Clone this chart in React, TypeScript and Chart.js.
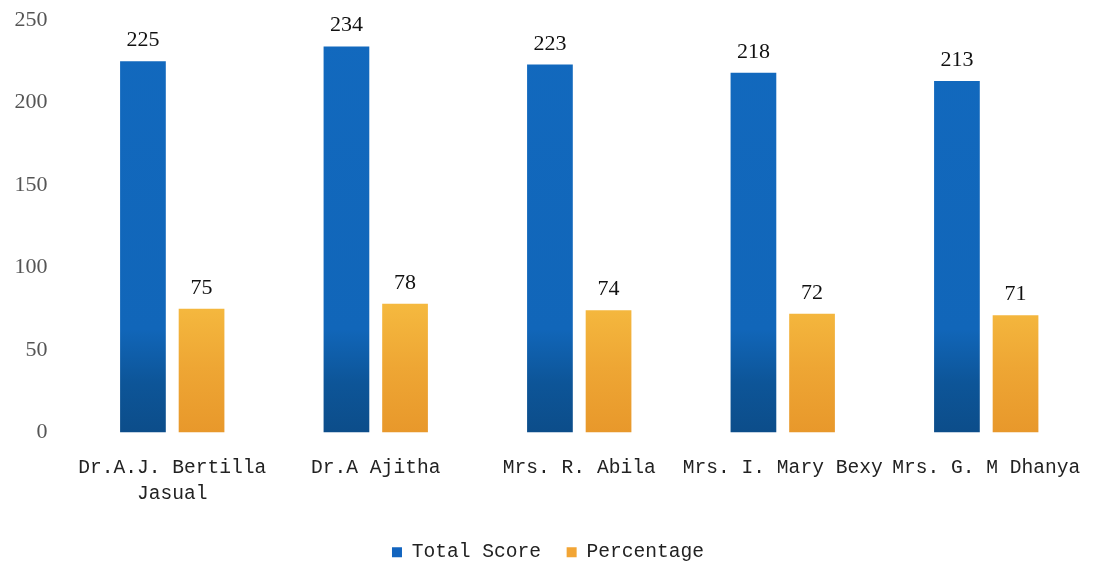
import React, { useEffect, useRef } from "react";
import { Chart, registerables } from "chart.js";

Chart.register(...registerables);

const categories: (string | string[])[] = [
  ["Dr.A.J. Bertilla", "Jasual"],
  "Dr.A Ajitha",
  "Mrs. R. Abila",
  "Mrs. I. Mary Bexy",
  "Mrs. G. M Dhanya",
];
const totalScore = [225, 234, 223, 218, 213];
const percentage = [75, 78, 74, 72, 71];
const yTicks = [0, 50, 100, 150, 200, 250];
const seriesNames = ["Total Score", "Percentage"];

const labelFont = "'Liberation Mono', 'DejaVu Sans Mono', monospace";
const numFont = "'Liberation Serif', 'DejaVu Serif', serif";

function blueFill(ctx: any) {
  const chart = ctx.chart;
  const area = chart.chartArea;
  if (!area) return "#1267bd";
  const y = chart.scales.y;
  const g = chart.ctx.createLinearGradient(0, y.getPixelForValue(0), 0, y.getPixelForValue(250));
  g.addColorStop(0, "#0c4d8a");
  g.addColorStop(0.12, "#0d5598");
  g.addColorStop(0.25, "#1166b9");
  g.addColorStop(1, "#1269be");
  return g;
}

function orangeFill(ctx: any) {
  const chart = ctx.chart;
  const area = chart.chartArea;
  if (!area) return "#f0a832";
  const y = chart.scales.y;
  const g = chart.ctx.createLinearGradient(0, y.getPixelForValue(0), 0, y.getPixelForValue(78));
  g.addColorStop(0, "#e8982b");
  g.addColorStop(0.5, "#eea634");
  g.addColorStop(1, "#f5b93f");
  return g;
}

const valueLabels = {
  id: "valueLabels",
  afterDatasetsDraw(chart: any) {
    const ctx = chart.ctx;
    ctx.save();
    ctx.font = `22px ${numFont}`;
    ctx.fillStyle = "#111";
    ctx.textAlign = "center";
    ctx.textBaseline = "alphabetic";
    chart.data.datasets.forEach((ds: any, i: number) => {
      const meta = chart.getDatasetMeta(i);
      meta.data.forEach((el: any, j: number) => {
        ctx.fillText(String(ds.data[j]), el.x, el.y - 15);
      });
    });
    ctx.restore();
  },
};

export default function App() {
  const ref = useRef<HTMLCanvasElement | null>(null);
  useEffect(() => {
    if (!ref.current) return;
    const chart = new Chart(ref.current, {
      type: "bar",
      data: {
        labels: categories as any,
        datasets: [
          {
            label: seriesNames[0],
            data: totalScore,
            backgroundColor: blueFill as any,
            categoryPercentage: 0.576,
            barPercentage: 0.78,
          },
          {
            label: seriesNames[1],
            data: percentage,
            backgroundColor: orangeFill as any,
            categoryPercentage: 0.576,
            barPercentage: 0.78,
          },
        ],
      },
      options: {
        animation: false,
        responsive: true,
        maintainAspectRatio: false,
        layout: { padding: { top: 20, right: 7, left: 0, bottom: 0 } },
        scales: {
          x: {
            grid: { display: false, drawTicks: false },
            border: { display: false },
            ticks: {
              font: { family: labelFont, size: 19.6, lineHeight: 1.35 },
              color: "#222",
              padding: 22,
              maxRotation: 0,
              autoSkip: false,
            },
            afterFit: (s: any) => {
              s.height = 108;
            },
          },
          y: {
            min: 0,
            max: 250,
            grid: { display: false, drawTicks: false },
            border: { display: false },
            afterBuildTicks: (s: any) => {
              s.ticks = yTicks.map((v) => ({ value: v }));
            },
            ticks: {
              font: { family: numFont, size: 22 },
              color: "#555",
              padding: 23,
            },
            afterFit: (s: any) => {
              s.width = 70.5;
              s.paddingTop = 0;
              s.paddingBottom = 0;
            },
          },
        },
        plugins: {
          legend: {
            position: "bottom",
            labels: {
              font: { family: labelFont, size: 19.6 },
              color: "#222",
              boxWidth: 10,
              boxHeight: 10,
              padding: 2,
              generateLabels: () => [
                { text: seriesNames[0] + "  ", fillStyle: "#1264bf", strokeStyle: "#1264bf", lineWidth: 0, datasetIndex: 0, fontColor: "#222" },
                { text: seriesNames[1], fillStyle: "#f2a535", strokeStyle: "#f2a535", lineWidth: 0, datasetIndex: 1, fontColor: "#222" },
              ],
            },
          },
          tooltip: { enabled: false },
        },
      },
      plugins: [valueLabels],
    });
    return () => chart.destroy();
  }, []);
  return (
    <div style={{ position: "fixed", left: 0, top: 0, width: 1103, height: 572, background: "#fff" }}>
      <canvas ref={ref} />
    </div>
  );
}
